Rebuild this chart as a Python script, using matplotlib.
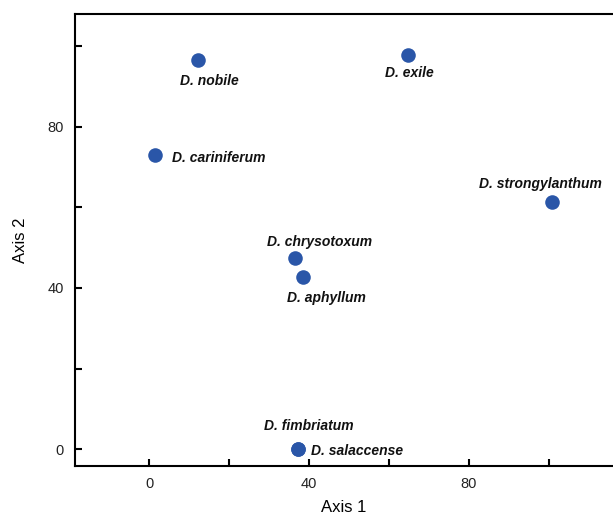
import matplotlib.pyplot as plt

plt.rcParams['font.family'] = ['Liberation Sans', 'DejaVu Sans']

# ordination scores
species = ['D. nobile', 'D. exile', 'D. cariniferum', 'D. strongylanthum',
           'D. chrysotoxum', 'D. aphyllum', 'D. fimbriatum', 'D. salaccense']
axis1 = [12.3, 64.8, 1.5, 100.7, 36.5, 38.6, 37.3, 37.3]
axis2 = [96.6, 97.9, 73.0, 61.3, 47.5, 42.8, 0.1, 0.1]

# label placement: (dx, dy in points, ha)
label_pos = {
    'D. nobile': (7.7, -15.2, 'center'),
    'D. exile': (0.7, -13.0, 'center'),
    'D. cariniferum': (12.2, -2.0, 'left'),
    'D. strongylanthum': (-8, 12.8, 'center'),
    'D. chrysotoxum': (18, 11.4, 'center'),
    'D. aphyllum': (16.6, -15.4, 'center'),
    'D. fimbriatum': (7.5, 16.5, 'center'),
    'D. salaccense': (9.1, -1.3, 'left'),
}

fig = plt.figure(figsize=(6.13, 5.15), dpi=100)
ax = fig.add_axes([0.1225, 0.095, 0.8775, 0.878])

ax.scatter(axis1, axis2, s=110, color='#2a56a8', zorder=3, linewidths=0)

for name, x, y in zip(species, axis1, axis2):
    dx, dy, ha = label_pos[name]
    ax.annotate(name, (x, y), xytext=(dx, dy), textcoords='offset points',
                ha=ha, va='center', fontsize=10, fontweight='bold', style='italic',
                color='#111111')

ax.set_xlim(-18.5, 116)
ax.set_ylim(-4.2, 108)
ax.set_xticks([0, 20, 40, 60, 80, 100])
ax.set_xticklabels(['0', '', '40', '', '80', ''])
ax.set_yticks([0, 20, 40, 60, 80, 100])
ax.set_yticklabels(['0', '', '40', '', '80', ''])
ax.tick_params(direction='in', length=5, width=1.5, labelsize=10.5, pad=8,
               labelcolor='#222222')

ax.spines['right'].set_visible(False)
for s in ['left', 'bottom', 'top']:
    ax.spines[s].set_linewidth(1.5)

ax.set_xlabel('Axis 1', fontsize=12, labelpad=6)
ax.set_ylabel('Axis 2', fontsize=12, labelpad=14)

fig.savefig('out.png', dpi=100)
